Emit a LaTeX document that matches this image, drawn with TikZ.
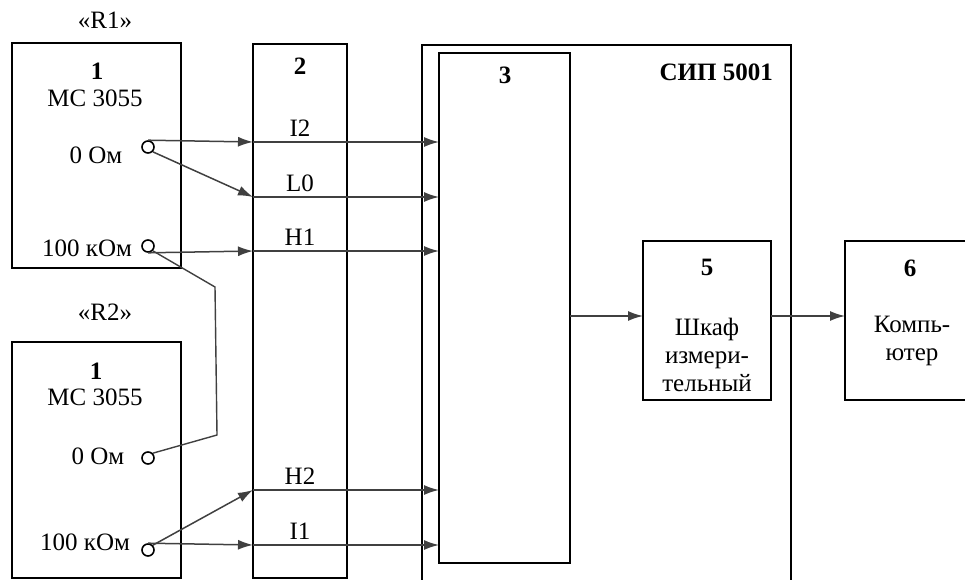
\documentclass[tikz,border=0pt]{standalone}
\usepackage{fontspec}
\setmainfont{Liberation Serif}
\usetikzlibrary{arrows.meta, calc}

\tikzset{
  blk/.style={draw, line width=1.8pt, inner sep=0pt, outer sep=0pt},
  txt/.style={font=\fontsize{25}{28}\selectfont, inner sep=0pt, align=center},
  num/.style={txt, font=\fontsize{25}{28}\selectfont\bfseries},
  term/.style={draw, circle, line width=1.6pt, minimum size=12pt, inner sep=0pt, fill=white},
  sig/.style={draw=black!75, line width=1.5pt, -{Latex[length=15pt,width=10pt]}},
  wire/.style={draw=black!75, line width=1.4pt}
}

\begin{document}
\begin{tikzpicture}[x=1pt, y=-1pt]
                \useasboundingbox (0,0) rectangle (965,580);
                \node[blk, minimum width=169, minimum height=225] (R1) at (96.5,155.5) {};
                \node[blk, minimum width=169, minimum height=236] (R2) at (96.5,460) {};
                \node[blk, minimum width=94, minimum height=534] (B2) at (300,311) {};
                \node[blk, minimum width=369, minimum height=537] (SIP) at (606.5,313.5) {};
                \node[blk, minimum width=131, minimum height=510] (B3) at (504.5,308) {};
                \node[blk, minimum width=128, minimum height=159] (B5) at (707,320.5) {};
                \node[blk, minimum width=130, minimum height=159] (B6) at (910,320.5) {};
                \node[txt] (lR1) at (105,20) {«R1»};
                \node[txt] (lR2) at (105,312) {«R2»};
                \node[num] (n1a) at (97,71) {1};
                \node[txt] (m1a) at (95,98) {МС 3055};
                \node[txt] (o1a) at (96,155) {0 Ом};
                \node[txt] (k1a) at (87,248) {100 кОм};
                \node[num] (n1b) at (96,371) {1};
                \node[txt] (m1b) at (95,397) {МС 3055};
                \node[txt] (o1b) at (98,456) {0 Ом};
                \node[txt] (k1b) at (85,542) {100 кОм};
                \node[num] (n2) at (300,66) {2};
                \node[num] (n3) at (505,75) {3};
                \node[num, anchor=east] (nS) at (773,72) {СИП 5001};
                \node[num] (n5) at (707,267) {5};
                \node[txt] (t5) at (707,355) {Шкаф\\измери-\\тельный};
                \node[num] (n6) at (910,268) {6};
                \node[txt] (t6) at (912,341) {Компь-\\ютер};
                \node[term] (c1a) at (148,147) {};
                \node[term] (c1b) at (148,246) {};
                \node[term] (c2a) at (148,458) {};
                \node[term] (c2b) at (148,550) {};
                \coordinate (pI2) at (253,142);
                \coordinate (pL0) at (253,197);
                \coordinate (pH1) at (253,251);
                \coordinate (pH2) at (253,490);
                \coordinate (pI1) at (253,545);
                \coordinate (w1) at (215,287);
                \coordinate (w2) at (217,435);
                \coordinate (p5) at (643,316);
                \path[sig] (c1a.north) -- (pI2);
                \path[sig] (c1a.south east) -- (pL0);
                \path[sig] (c1b.south) -- (pH1);
                \path[sig] (c2b.north east) -- (pH2);
                \path[sig] (c2b.north) -- (pI1);
                \foreach \p in {pI2,pL0,pH1,pH2,pI1}
                    \path[sig] (\p) -- (\p -| B3.west);
                \path[wire] (c1b.south east) -- (w1) -- (w2) -- (c2a.north east);
                \path[sig] (p5 -| B3.east) -- (p5);
                \path[sig] (p5 -| B5.east) -- (p5 -| B6.west);
                \node[txt, above=5pt] (lI2) at ($(pI2)!0.5!(pI2 -| B2.east)$) {I2};
                \node[txt, above=5pt] (lL0) at ($(pL0)!0.5!(pL0 -| B2.east)$) {L0};
                \node[txt, above=5pt] (lH1) at ($(pH1)!0.5!(pH1 -| B2.east)$) {H1};
                \node[txt, above=5pt] (lH2) at ($(pH2)!0.5!(pH2 -| B2.east)$) {H2};
                \node[txt, above=5pt] (lI1) at ($(pI1)!0.5!(pI1 -| B2.east)$) {I1};
            \end{tikzpicture}
\end{document}
